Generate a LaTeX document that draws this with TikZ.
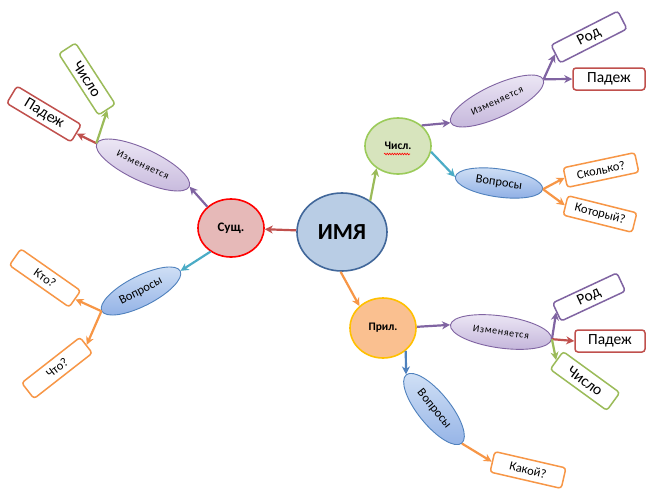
\documentclass[tikz,border=0pt]{standalone}
\usepackage{fontspec}
\setmainfont{Carlito}
\usetikzlibrary{shapes.geometric,arrows.meta,decorations.pathmorphing}
\definecolor{imaFill}{HTML}{B9CDE5}
\definecolor{imaDraw}{HTML}{41679A}
\definecolor{sushFill}{HTML}{E6B9B8}
\definecolor{sushDraw}{HTML}{FF0000}
\definecolor{chislFill}{HTML}{D7E4BD}
\definecolor{chislDraw}{HTML}{9BCB5A}
\definecolor{prilFill}{HTML}{FAC090}
\definecolor{prilDraw}{HTML}{FFC000}
\definecolor{purp}{HTML}{8064A2}
\definecolor{lavA}{HTML}{EEE9F6}
\definecolor{lavB}{HTML}{C6B8DC}
\definecolor{bluB}{HTML}{4F81BD}
\definecolor{bluA}{HTML}{D3E2F6}
\definecolor{bluC}{HTML}{93B2E6}
\definecolor{redA}{HTML}{C0504D}
\definecolor{greenA}{HTML}{9BBB59}
\definecolor{orangeA}{HTML}{F79646}
\definecolor{tealA}{HTML}{4BACC6}
\begin{document}
\begin{tikzpicture}[x=1pt,y=-1pt,
  hub/.style={ellipse, draw, line width=1.6pt, inner sep=0pt, font=\bfseries\fontsize{11.5}{12}\selectfont},
  izm/.style={ellipse, draw=purp, line width=0.9pt, top color=lavA, bottom color=lavB, minimum width=102pt, minimum height=32pt, inner sep=0pt, font=\fontsize{10}{12}\selectfont\addfontfeature{LetterSpace=7}},
  vop/.style={ellipse, draw=bluB, line width=0.9pt, top color=bluA, bottom color=bluC, minimum width=88pt, minimum height=30pt, inner sep=0pt, font=\fontsize{12.5}{14}\selectfont},
  lbox/.style={rectangle, rounded corners=3pt, draw, line width=1.5pt, fill=white, minimum width=73pt, minimum height=20pt, inner sep=0pt},
  bigt/.style={font=\fontsize{15.5}{16}\selectfont},
  smallt/.style={font=\fontsize{12.5}{14}\selectfont},
  arr/.style={-{Stealth[length=8pt,width=8pt,inset=2.5pt]}, line width=2.2pt},
]
\useasboundingbox (0,0) rectangle (646,488);
\fill[white] (0,0) rectangle (646,488);

% hubs
\node[hub, draw=imaDraw, fill=imaFill, minimum width=90pt, minimum height=78pt, font=\bfseries\fontsize{23}{26}\selectfont] (ima) at (342,232) {ИМЯ};
\node[hub, draw=sushDraw, fill=sushFill, minimum width=66pt, minimum height=58pt, font=\bfseries\fontsize{13}{14}\selectfont] (sush) at (231,228) {Сущ.};
\node[hub, draw=chislDraw, fill=chislFill, minimum width=66pt, minimum height=56pt] (chisl) at (398,146) {Числ.};
\node[hub, draw=prilDraw, fill=prilFill, minimum width=66pt, minimum height=60pt] (pril) at (383,328) {Прил.};
\draw[red, line width=0.6pt, decorate, decoration={snake, amplitude=0.8pt, segment length=2.5pt}] (384,154) -- (410,154);

% left branch
\node[izm, rotate=-25] (izL) at (143,165) {Изменяется};
\node[lbox, draw=redA, bigt, rotate=-31, minimum width=75pt] (padL) at (44,114) {Падеж};
\node[lbox, draw=greenA, bigt, rotate=-57] (chisloL) at (87,79) {Число};
\node[vop, rotate=27] (vopL) at (141,291) {Вопросы};
\node[lbox, draw=orangeA, smallt, rotate=-35] (kto) at (45,278) {Кто?};
\node[lbox, draw=orangeA, smallt, rotate=38, minimum width=74pt] (chto) at (57,368) {Что?};

% top-right branch
\node[izm, rotate=25] (izTR) at (497,101) {Изменяется};
\node[lbox, draw=purp, bigt, rotate=27, minimum width=75pt] (rodTR) at (589,37) {Род};
\node[lbox, draw=redA, bigt, minimum width=72pt, minimum height=22pt] (padTR) at (609,79) {Падеж};
\node[vop, rotate=-8, minimum height=28pt] (vopTR) at (499,183) {Вопросы};
\node[lbox, draw=orangeA, smallt, rotate=12] (skolko) at (601,170) {Сколько?};
\node[lbox, draw=orangeA, smallt, rotate=-14, minimum width=71pt] (kotory) at (600,214) {Который?};

% bottom-right branch
\node[izm, rotate=-8] (izBR) at (501,332) {Изменяется};
\node[lbox, draw=purp, bigt, rotate=25, minimum width=71pt] (rodBR) at (589,297) {Род};
\node[lbox, draw=redA, bigt, minimum width=70pt, minimum height=22pt] (padBR) at (610,341) {Падеж};
\node[lbox, draw=greenA, bigt, rotate=-36, minimum width=70pt, minimum height=22pt] (chisloBR) at (585,381) {Число};
\node[vop, rotate=-51, minimum height=32pt] (vopBR) at (434,409) {Вопросы};
\node[lbox, draw=orangeA, smallt, rotate=-13, minimum height=21pt] (kakoy) at (528,470) {Какой?};

% connectors
\draw[arr, redA] (ima) -- (sush);
\draw[arr, greenA] (ima.48) -- (chisl.226);
\draw[arr, orangeA] (ima.268) -- (pril.137);

\draw[arr, purp] (sush.138) -- (izL.east);
\draw[arr, tealA] (sush.229) -- (vopL.east);
\draw[arr, redA] (izL.west) -- (padL.east);
\draw[arr, greenA] (izL.west) -- (chisloL.east);
\draw[arr, orangeA] (vopL.west) -- (kto.east);
\draw[arr, orangeA] (vopL.west) -- (chto.east);

\draw[arr, purp] (chisl.41) -- (izTR.west);
\draw[arr, tealA] (chisl.350) -- (vopTR.west);
\draw[arr, purp] (izTR.east) -- (rodTR.west);
\draw[arr, purp] (izTR.east) -- (padTR.west);
\draw[arr, orangeA] (vopTR.east) -- (skolko.west);
\draw[arr, orangeA] (vopTR.east) -- (kotory.west);

\draw[arr, purp] (pril.2) -- (izBR.west);
\draw[arr, bluB] (pril.315) -- (vopBR.west);
\draw[arr, purp] (izBR.east) -- (rodBR.west);
\draw[arr, redA] (izBR.east) -- (padBR.west);
\draw[arr, greenA] (izBR.east) -- (chisloBR.west);
\draw[arr, orangeA] (vopBR.east) -- (kakoy.west);
\end{tikzpicture}
\end{document}
